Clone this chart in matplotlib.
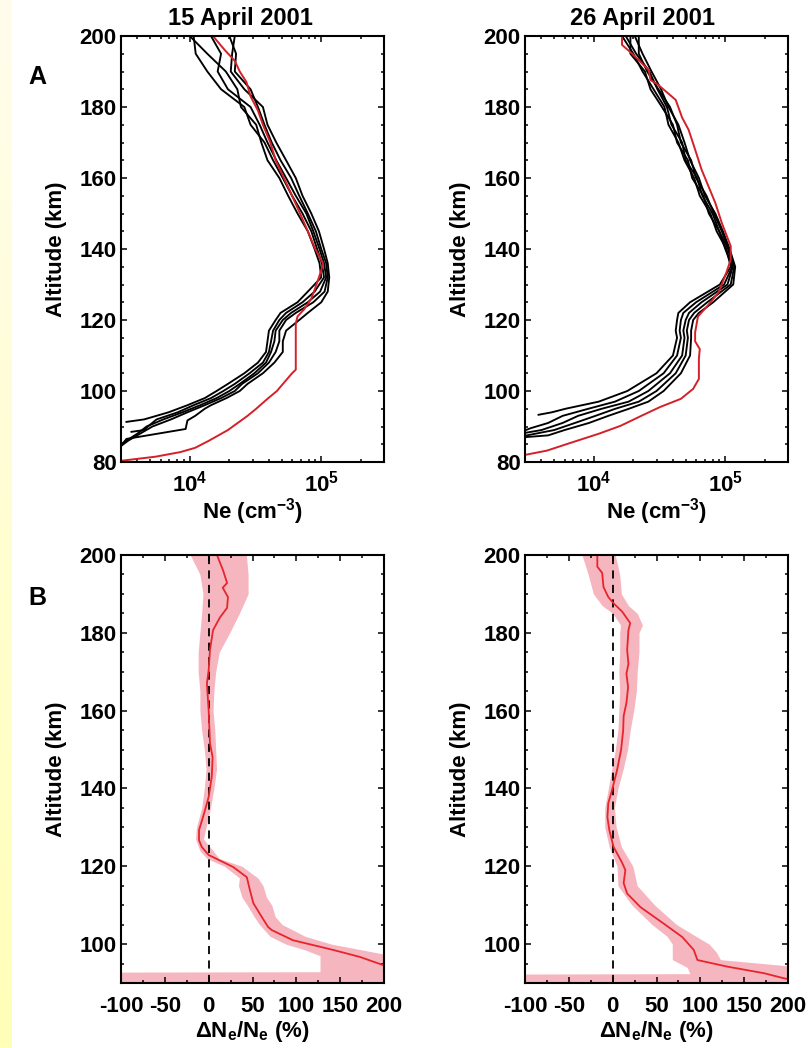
import numpy as np
import matplotlib
matplotlib.use("Agg")
import matplotlib.pyplot as plt
from matplotlib.ticker import MultipleLocator, FixedLocator, LogLocator, NullFormatter

plt.rcParams['font.family'] = ['Liberation Sans', 'DejaVu Sans']
plt.rcParams['font.weight'] = 'bold'
plt.rcParams['mathtext.fontset'] = 'custom'
plt.rcParams['mathtext.rm'] = 'Liberation Sans:bold'
plt.rcParams['mathtext.it'] = 'Liberation Sans:bold'
plt.rcParams['mathtext.bf'] = 'Liberation Sans:bold'
plt.rcParams['axes.unicode_minus'] = False

# ---------------- data (Ne in units of 1e4 cm^-3) ----------------
titles = ["15 April 2001", "26 April 2001"]

# 15 April, black profiles on a shared altitude grid, plus individual low-altitude tails
alt_tl = [200, 195, 190, 185, 180, 175, 170, 165, 160, 155, 150, 145, 140, 136, 132,
          128, 125, 122, 120, 117, 114, 111, 108, 105, 102, 100, 98, 96]
ne_tl = [
    [1.0, 1.36, 1.88, 2.3, 2.45, 3.2, 3.5, 3.9, 4.8, 5.6, 6.6, 7.9, 8.9, 9.7, 10.0,
     7.9, 6.6, 4.9, 4.5, 4.0, 3.9, 3.8, 3.3, 2.6, 1.95, 1.6, 1.3, 0.96],
    [1.07, 1.11, 1.36, 1.73, 2.6, 2.9, 3.7, 4.3, 5.1, 6.0, 7.2, 8.4, 9.3, 10.1, 10.5,
     8.9, 7.2, 5.4, 4.8, 4.3, 4.15, 4.0, 3.6, 2.85, 2.2, 1.8, 1.45, 1.07],
    [1.45, 1.73, 1.63, 1.95, 2.9, 3.4, 3.9, 4.55, 5.4, 6.4, 7.7, 8.7, 9.7, 10.5, 10.9,
     9.8, 7.9, 5.9, 5.1, 4.5, 4.4, 4.15, 3.8, 3.1, 2.4, 2.0, 1.6, 1.2],
    [2.0, 2.25, 2.2, 2.9, 3.3, 3.7, 4.2, 4.9, 5.9, 6.8, 7.9, 9.1, 10.0, 10.9, 11.2,
     10.6, 8.7, 6.4, 5.4, 4.8, 4.8, 4.5, 4.0, 3.3, 2.5, 2.2, 1.73, 1.3],
    [2.2, 2.1, 2.05, 2.6, 3.6, 3.9, 4.55, 5.4, 6.4, 7.2, 8.4, 9.6, 10.5, 11.2, 11.5,
     11.2, 10.0, 7.9, 6.8, 5.4, 5.1, 5.1, 4.4, 3.6, 2.75, 2.4, 1.9, 1.45],
]
tail_alt_tl = [[94, 92, 91.3], [94, 92, 90, 89, 88.5], [94, 92, 90, 88, 86, 85],
               [94, 92, 90, 88, 86, 84.5], [95, 93, 91.7, 89.3, 86.5, 84.6]]
tail_ne_tl = [[0.69, 0.45, 0.33], [0.81, 0.56, 0.48, 0.45, 0.36], [0.88, 0.63, 0.47, 0.4, 0.33, 0.3],
              [0.96, 0.72, 0.52, 0.42, 0.34, 0.3], [1.3, 1.1, 0.96, 0.93, 0.33, 0.3]]

red_alt_tl = [200, 196, 193, 190, 187, 183, 179, 175, 170, 165, 160, 155, 150, 145, 140, 136,
              134, 130, 126, 123, 121, 119, 112, 106, 105, 102.5, 100, 97.8, 95, 93, 89, 86,
              84, 82.8, 81.5, 80.4]
red_ne_tl = [1.5, 1.85, 2.2, 2.4, 2.7, 2.9, 3.3, 3.6, 4.1, 4.5, 5.2, 6.0, 6.9, 7.9, 9.0, 10.3,
             10.0, 9.2, 8.4, 7.4, 6.6, 6.4, 6.4, 6.4, 6.0, 5.25, 4.6, 3.9, 3.2, 2.75, 1.95, 1.4,
             1.1, 0.85, 0.55, 0.31]

# 26 April
alt_tr = [200, 195, 190, 185, 180, 175, 170, 165, 160, 155, 150, 145, 140, 135, 130,
          125, 122, 120, 117, 115, 110, 105, 100, 97]
ne_tr = [
    [1.64, 2.0, 2.35, 2.85, 3.45, 3.7, 4.4, 4.9, 5.8, 6.4, 7.7, 8.6, 10.2, 11.0, 9.1,
     5.4, 4.4, 4.3, 4.2, 4.3, 4.0, 3.0, 1.8, 1.09],
    [1.9, 1.9, 2.45, 2.7, 3.3, 4.0, 4.3, 5.2, 5.6, 6.8, 7.5, 9.0, 10.0, 11.3, 9.8,
     6.0, 4.8, 4.6, 4.5, 4.6, 4.3, 3.4, 2.2, 1.45],
    [1.75, 2.1, 2.65, 3.05, 3.6, 3.9, 4.7, 5.0, 6.1, 6.7, 8.0, 9.0, 10.5, 11.4, 10.4,
     6.6, 5.3, 5.0, 4.8, 4.9, 4.7, 3.8, 2.6, 1.84],
    [2.2, 2.2, 2.55, 3.1, 3.8, 4.3, 4.6, 5.5, 6.0, 7.2, 8.2, 9.4, 10.6, 11.7, 11.0,
     7.3, 5.8, 5.3, 5.1, 5.2, 5.0, 4.2, 3.0, 2.2],
    [2.05, 2.35, 2.75, 3.25, 3.7, 4.4, 4.9, 5.4, 6.3, 7.0, 8.4, 9.6, 10.8, 11.9, 11.5,
     8.1, 6.3, 5.7, 5.5, 5.5, 5.4, 4.6, 3.4, 2.6],
]
tail_alt_tr = [[95, 94, 93.3], [95, 93, 91, 89.5, 88.9], [95, 93, 91, 89, 88.2],
               [95, 93, 91, 89, 87.4], [95, 93, 91, 89, 87.5, 87.0]]
tail_ne_tr = [[0.61, 0.48, 0.38], [0.91, 0.58, 0.45, 0.33, 0.3], [1.15, 0.76, 0.58, 0.4, 0.3],
              [1.46, 1.03, 0.72, 0.5, 0.3], [1.85, 1.29, 0.92, 0.6, 0.45, 0.3]]

red_alt_tr = [200, 197.5, 195, 190.4, 187.6, 186.2, 182, 177, 173.6, 168, 162.4, 153, 147.4,
              140.8, 137, 133.4, 127.8, 123.9, 121, 116.5, 114, 111.8, 109, 103.4, 100.6, 97.8,
              95.5, 93, 90.2, 88, 85.1, 83.2, 82.3, 82]
red_ne_tr = [1.64, 1.64, 1.96, 2.62, 2.7, 3.1, 4.2, 4.7, 5.26, 5.9, 6.6, 8.4, 9.4, 11.0, 11.0,
             10.2, 8.9, 7.3, 6.2, 5.9, 5.9, 6.4, 6.3, 6.3, 5.7, 4.6, 3.2, 2.3, 1.6, 1.1, 0.63,
             0.44, 0.33, 0.3]

# B: relative difference (%)
dn_alt_bl = [200, 196, 192.8, 191.6, 189.2, 186.4, 184, 180.7, 175.6, 170.4, 167, 160, 151.6,
             148, 143, 137.8, 132.6, 129.3, 126.7, 125, 122.9, 119.8, 117.2, 113.9, 110.5, 107,
             104.4, 103.6, 101, 98.5, 96.7, 94.6, 93.8]
dn_bl = [9.5, 16.5, 21, 16, 22, 21, 13, 5, 1.5, 0, -2, 0, 1.5, 4.5, 3.5, 0, -6.5, -11, -11, -8,
         0, 28, 43.5, 47, 51, 60.5, 67.8, 72, 96, 142, 172.5, 199, 215]
band_alt_bl = [200, 195, 190, 185, 180, 175, 170, 165, 160, 155, 150, 145, 140, 135, 130, 127,
               124, 122, 120, 117, 115, 112, 110, 107, 105, 102, 100, 98.5, 97, 96, 94, 92.9,
               92.8, 90]
band_lo_bl = [-21, -10, -6.5, -8, -10, -12, -12, -10, -10, -8, -5, -3, -5, -8, -14, -15, -10,
              -2, 18, 35, 34, 38, 44, 52, 58, 70, 88, 110, 127, 127, 127, 127, -110, -110]
band_hi_bl = [43, 45, 45, 35, 24, 12, 8, 6, 5, 7, 8, 9, 6, 2, -3, -6, 5, 12, 38, 56, 62, 66,
              72, 76, 84, 110, 140, 175, 210, 220, 220, 220, 220, 220]

dn_alt_br = [200, 197, 195.4, 191.8, 189.2, 187.6, 185.4, 182.5, 180.7, 175.6, 172, 169.5, 166,
             162, 158.6, 155, 149.9, 144.7, 139.6, 136.2, 132.6, 129.3, 125, 120.8, 119, 115.7,
             113, 109.5, 105.3, 101.8, 98.5, 95.9, 94.2, 92.5, 91.2, 90.8]
dn_br = [-17.5, -17.5, -12, -10.5, -5, 1, 11, 20, 18, 16.5, 18, 15.7, 17.6, 15.7, 12.5, 12, 9.6,
         5, -0.7, -5, -6, -3.8, 1, 11, 14.5, 12.5, 16.5, 31.7, 58, 79.5, 92.5, 96.7, 131, 173,
         195.5, 205]
band_alt_br = [200, 195, 190, 187, 185, 182, 180, 175, 170, 165, 160, 155, 150, 145, 140, 135,
               130, 125, 120, 115, 110, 105, 102, 100, 98, 96, 94, 92.4, 92.3, 90]
band_lo_br = [-35, -28, -22, -12, 0, 9, 8, 8, 7, 8, 7, 6, 3, -1, -5, -9, -9, -4, 5, 6, 22, 45,
              62, 68, 68, 68, 85, 88, -110, -110]
band_hi_br = [3, 8, 10, 18, 28, 34, 30, 30, 28, 27, 24, 20, 17, 12, 6, 2, 4, 10, 23, 28, 48, 73,
              95, 110, 118, 123, 220, 220, 220, 220]

# ---------------- figure ----------------
W, H = 809, 1048
fig = plt.figure(figsize=(W / 100, H / 100), dpi=100)

# pale yellow strip on the left edge
strip = fig.add_axes([0, 0, 12 / W, 1])
grad = np.linspace(0, 1, 256).reshape(-1, 1)
top_col = np.array([1.0, 0.992, 0.925])
bot_col = np.array([1.0, 1.0, 0.72])
img = top_col[None, None, :] * (1 - grad[:, :, None]) + bot_col[None, None, :] * grad[:, :, None]
strip.imshow(img, aspect='auto', extent=[0, 1, 0, 1])
strip.axis('off')

fs = 16
lefts = [121 / W, 525 / W]
w = 263 / W
top_ax = [fig.add_axes([l, 1 - 462 / H, w, 426 / H]) for l in lefts]
bot_ax = [fig.add_axes([l, 1 - 983 / H, w, 428 / H]) for l in lefts]


def style(ax):
    ax.tick_params(which='both', direction='in', top=True, right=True, labelsize=fs, width=1.1)
    ax.tick_params(which='major', length=4.5)
    ax.tick_params(which='minor', length=2.4)
    ax.tick_params(axis='y', pad=3)
    for s in ax.spines.values():
        s.set_linewidth(1.5)
    ax.yaxis.set_major_locator(MultipleLocator(20))
    ax.yaxis.set_minor_locator(MultipleLocator(5))
    ax.set_ylabel("Altitude (km)", fontsize=fs, fontweight='bold', labelpad=9)


panels_top = [(alt_tl, ne_tl, tail_alt_tl, tail_ne_tl, red_alt_tl, red_ne_tl),
              (alt_tr, ne_tr, tail_alt_tr, tail_ne_tr, red_alt_tr, red_ne_tr)]
for ax, (alt, nes, talts, tnes, ralt, rne) in zip(top_ax, panels_top):
    for ne, ta, tn in zip(nes, talts, tnes):
        a = np.array(list(alt) + list(ta))
        n = np.array(list(ne) + list(tn)) * 1e4
        ax.plot(n, a, color='black', lw=1.35)
    ax.plot(np.array(rne) * 1e4, ralt, color='#d42028', lw=1.4)
    ax.set_xscale('log')
    ax.set_xlim(3e3, 3e5)
    ax.set_ylim(80, 200)
    style(ax)
    ax.xaxis.set_major_locator(FixedLocator([1e4, 1e5]))
    ax.set_xticklabels([r"$10^4$", r"$10^5$"])
    ax.xaxis.set_minor_locator(LogLocator(base=10, subs=np.arange(2, 10)))
    ax.xaxis.set_minor_formatter(NullFormatter())
    ax.tick_params(axis='x', pad=6)
    ax.set_xlabel("Ne (cm$^{-3}$)", fontsize=fs, fontweight='bold', labelpad=0)

for x, title in zip([240, 643], titles):
    fig.text(x / W, 1 - 18 / H, title, fontsize=fs + 1, fontweight='bold', ha='center', va='center')

panels_bot = [(dn_alt_bl, dn_bl, band_alt_bl, band_lo_bl, band_hi_bl),
              (dn_alt_br, dn_br, band_alt_br, band_lo_br, band_hi_br)]
for ax, (alt, dn, balt, blo, bhi) in zip(bot_ax, panels_bot):
    ax.fill_betweenx(balt, blo, bhi, color='#f5aab4', alpha=0.85, lw=0)
    ax.axvline(0, color='black', lw=1.3, ls=(0, (4.5, 3.5)))
    ax.plot(dn, alt, color='#e8242c', lw=1.3)
    ax.set_xlim(-100, 200)
    ax.set_ylim(90, 200)
    style(ax)
    ax.xaxis.set_major_locator(MultipleLocator(50))
    ax.xaxis.set_minor_locator(MultipleLocator(25))
    ax.tick_params(axis='x', pad=9)
    ax.set_xlabel("ΔN$_e$/N$_e$ (%)", fontsize=fs, fontweight='bold', labelpad=2)

fig.text(37 / W, 1 - 77 / H, "A", fontsize=fs + 2, fontweight='bold', ha='center', va='center')
fig.text(37 / W, 1 - 598 / H, "B", fontsize=fs + 2, fontweight='bold', ha='center', va='center')

fig.savefig("out.png", dpi=100)
